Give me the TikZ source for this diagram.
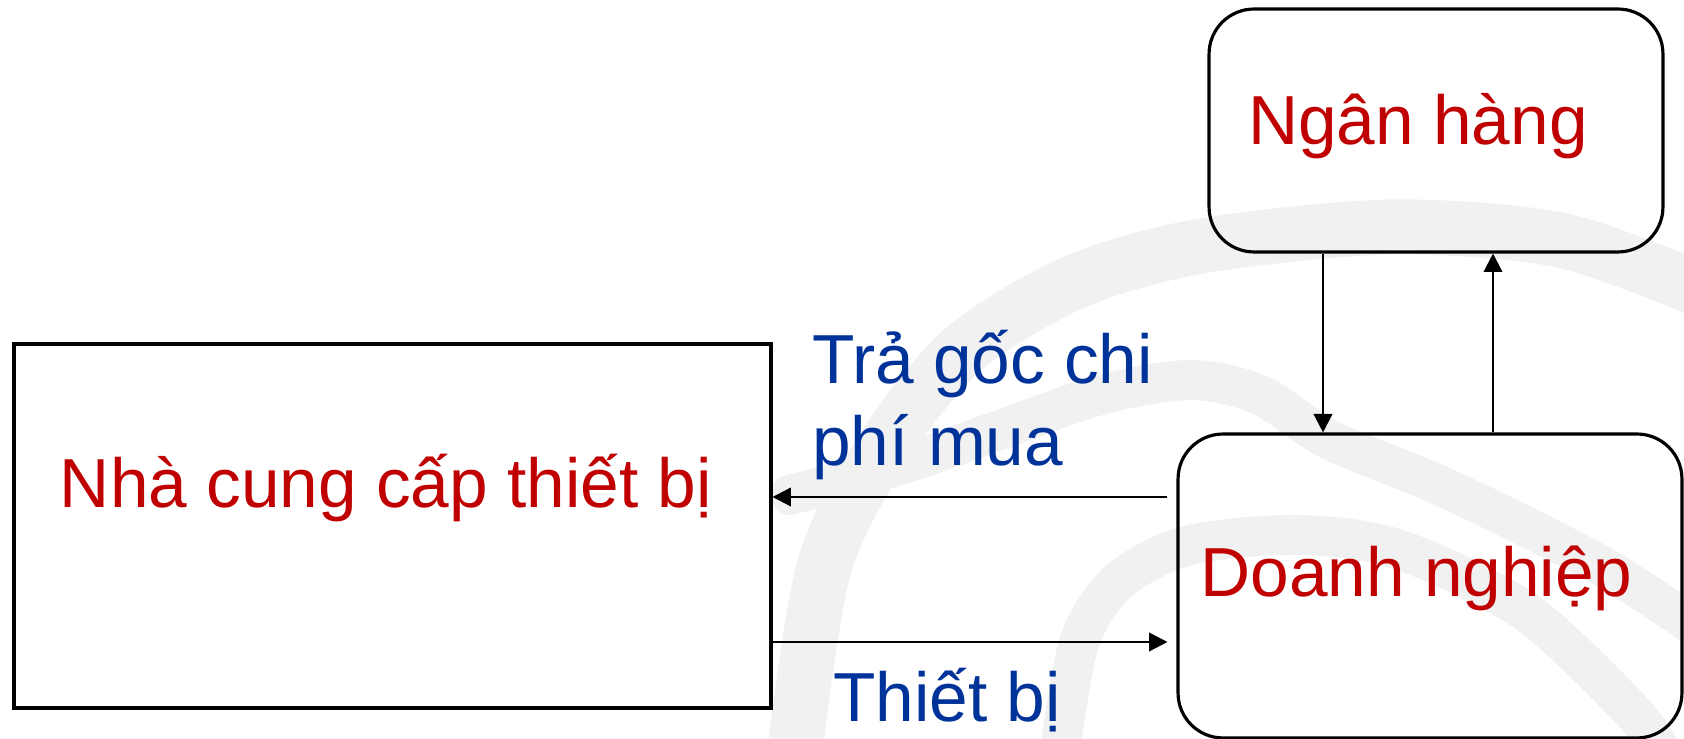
\documentclass[tikz,border=0pt]{standalone}
\usepackage{fontspec}
\setmainfont{Liberation Sans}
\usetikzlibrary{arrows.meta,calc}

\definecolor{boxred}{RGB}{192,0,0}
\definecolor{flowblue}{RGB}{0,51,153}
\definecolor{wmgray}{RGB}{241,241,241}

\begin{document}
\begin{tikzpicture}[x=0.02cm,y=0.02cm,
	party/.style={draw, line width=1.8pt, inner sep=0pt},
	title/.style={text=boxred, font=\fontsize{39.5}{46.7}\selectfont, inner sep=0pt, anchor=base},
	note/.style={text=flowblue, font=\fontsize{39.5}{46.7}\selectfont, inner sep=0pt, align=left, anchor=base west},
	flow/.style={line width=1.4pt, -{Triangle[length=10.5pt,width=10.5pt]}},
	swoosh/.style={wmgray, line cap=round}
]
	\useasboundingbox (0,0) rectangle (1684,739);
	% faint logo in the background
	\begin{scope}
		\clip (0,0) rectangle (1684,739);
		\draw[swoosh, line width=1.1cm] plot[smooth] coordinates {(1700,449) (1560,499) (1390,512) (1202,493) (1077,458) (966,392) (888,298) (825,175) (795,-11)};
		\draw[swoosh, line width=0.8cm] plot[smooth] coordinates {(790,244) (900,274) (1000,309) (1100,344) (1190,359) (1260,344) (1330,299) (1450,249) (1600,174) (1700,109)};
		\draw[swoosh, line width=0.8cm] plot[smooth] coordinates {(1060,-11) (1080,99) (1120,159) (1190,194) (1300,204) (1400,189) (1525,128) (1630,30) (1660,-11)};
	\end{scope}
	%% boxes
	\node[party, fill=white, minimum width=15.14cm, minimum height=7.28cm] (ncc) at (392.5,213) {};
	\node[party, rounded corners=0.9cm, minimum width=9.08cm, minimum height=4.86cm] (bank) at (1436,608.5) {};
	\node[party, rounded corners=0.9cm, minimum width=10.08cm, minimum height=6.08cm] (firm) at (1430,153) {};
	\node[title] (ncc-text) at (386,231) {Nhà cung cấp thiết bị};
	\node[title] (bank-text) at (1418,594) {Ngân hàng};
	\node[title] (firm-text) at (1416.5,142) {Doanh nghiệp};
	%% flows
	\coordinate (down) at (1323,0);
	\coordinate (up) at (1493,0);
	\coordinate (pay) at (0,242);
	\coordinate (goods) at (0,97);
	\coordinate (gap) at ([xshift=-0.18cm]firm.west);
	\draw[flow] (bank.south -| down) -- (firm.north -| down);
	\draw[flow] (firm.north -| up) -- (bank.south -| up);
	\draw[flow] (gap |- pay) -- (ncc.east |- pay);
	\draw[flow] (ncc.east |- goods) -- (gap |- goods);
	\node[note] (pay-label) at (812,273) {Trả gốc chi\\phí mua};
	\node[note] (goods-label) at (833,17) {Thiết bị};
\end{tikzpicture}
\end{document}
